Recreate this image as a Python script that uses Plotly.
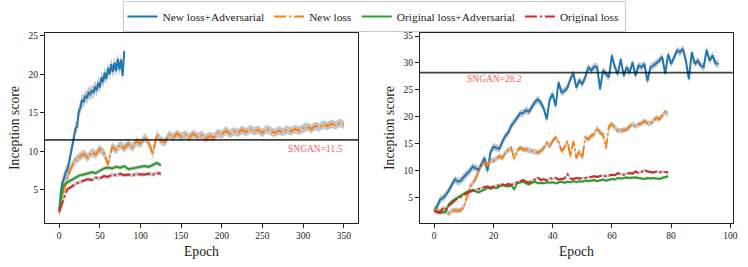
import numpy as np
import plotly.graph_objects as go

# ---------------- data ----------------
series_names = ["New loss+Adversarial", "New loss", "Original loss+Adversarial", "Original loss"]
series_colors = ["#1f77b4", "#ff7f0e", "#2ca02c", "#d62728"]
series_dash = ["solid", "12px,3px,2px,3px", "solid", "12px,3px,2px,3px"]

# Left panel
left_blue_epoch = list(range(0, 81, 2))
left_blue = [2.3, 4.8, 6.0, 6.5, 7.3, 7.6, 8.5, 9.8, 10.5, 11.8, 13.0, 13.2, 15.2, 15.6, 16.7,
             16.4, 17.2, 16.9, 17.6, 17.4, 17.9, 17.6, 18.4, 17.9, 18.9, 18.3, 19.6, 19.0, 20.2,
             19.4, 20.8, 20.0, 21.3, 20.3, 21.5, 20.4, 22.0, 20.6, 21.9, 19.8, 23.0]
left_orange_epoch = list(range(0, 351, 5))
left_orange = [2.0, 4.6, 6.6, 8.0, 8.9, 9.3, 9.7, 9.2, 9.9, 9.6, 10.3, 9.8, 8.3, 10.6, 10.2,
               10.9, 10.4, 11.0, 10.5, 11.3, 11.0, 11.8, 11.2, 9.6, 12.2, 11.4, 11.2, 12.2, 11.8,
               12.3, 11.9, 12.2, 11.8, 12.3, 11.9, 12.1, 11.7, 12.0, 11.8, 12.4, 12.2, 12.7, 12.3,
               12.6, 12.4, 12.8, 12.5, 12.9, 12.6, 12.8, 12.4, 12.9, 12.6, 12.4, 12.7, 12.5, 12.8,
               12.6, 12.9, 12.7, 13.0, 13.2, 12.9, 13.3, 13.1, 13.5, 13.3, 13.6, 13.4, 13.7, 13.5]
left_green_epoch = list(range(0, 126, 5))
left_green = [2.5, 5.6, 6.0, 6.3, 6.6, 6.9, 7.0, 7.1, 7.3, 7.2, 7.5, 7.8, 7.9, 7.8, 8.0, 7.9,
              8.1, 7.7, 7.8, 7.9, 8.0, 8.1, 8.0, 8.2, 8.5, 8.2]
left_red_epoch = list(range(0, 126, 5))
left_red = [2.2, 3.7, 5.1, 5.4, 5.8, 6.0, 6.2, 6.4, 6.3, 6.6, 6.5, 6.8, 6.7, 7.0, 6.9, 7.1,
            6.9, 7.0, 6.9, 7.1, 7.0, 7.0, 7.1, 7.0, 7.2, 7.1]
left_std = [0.8, 0.55, 0.25, 0.25]
left_sngan = 11.5

# Right panel
right_blue_epoch = list(range(0, 97))
right_blue = [2.5, 3.3, 4.6, 4.9, 5.5, 6.3, 7.4, 8.3, 7.9, 8.1, 8.8, 9.3, 9.9, 10.7, 10.4, 10.1,
              11.2, 12.3, 9.9, 13.4, 14.4, 14.2, 14.0, 15.3, 16.4, 17.0, 18.3, 19.0, 19.9, 20.6,
              20.7, 21.2, 20.9, 21.8, 22.7, 23.2, 22.6, 21.5, 19.5, 23.2, 24.2, 22.0, 26.4, 24.5,
              24.8, 25.4, 27.0, 28.1, 25.4, 26.7, 26.1, 27.3, 29.2, 28.6, 29.3, 29.3, 25.1, 28.6,
              27.9, 27.3, 31.4, 29.2, 27.9, 30.7, 27.6, 29.2, 28.2, 30.1, 27.6, 29.5, 29.2, 29.8,
              26.6, 29.2, 29.5, 29.9, 30.4, 31.1, 28.0, 31.6, 29.8, 31.0, 32.3, 32.0, 32.6, 30.4,
              27.0, 32.0, 29.8, 30.4, 29.5, 29.2, 32.4, 30.4, 31.4, 29.9, 29.8]
right_orange_epoch = list(range(0, 80))
right_orange = [2.8, 2.5, 2.3, 2.4, 2.3, 2.0, 2.5, 2.6, 2.5, 2.6, 3.2, 4.9, 7.0, 7.6, 8.5, 9.8,
                11.1, 11.4, 11.0, 11.9, 11.8, 12.2, 12.6, 12.3, 13.3, 13.8, 14.2, 12.2, 13.6, 14.2,
                13.9, 13.9, 13.7, 13.6, 13.5, 13.3, 13.6, 14.2, 15.1, 14.5, 15.5, 16.1, 15.3, 13.6,
                14.3, 15.4, 12.6, 15.4, 12.3, 13.6, 12.3, 16.1, 15.8, 16.4, 16.7, 17.9, 17.0, 16.7,
                14.1, 18.2, 18.6, 17.9, 17.4, 17.4, 17.5, 17.6, 18.2, 18.6, 18.2, 18.6, 18.7, 19.2,
                18.8, 18.7, 19.2, 19.8, 19.5, 20.3, 20.9, 20.5]
right_green_epoch = list(range(0, 80))
right_green = [2.6, 2.3, 2.3, 2.2, 2.4, 3.8, 4.3, 4.7, 5.0, 5.3, 5.7, 6.0, 6.2, 6.4, 6.1, 5.9,
               6.2, 6.4, 6.8, 6.6, 6.8, 6.7, 7.0, 7.3, 7.1, 7.0, 7.2, 6.5, 7.6, 7.8, 7.9, 7.6,
               7.4, 7.7, 7.9, 7.6, 7.7, 7.6, 7.8, 7.7, 7.8, 7.6, 7.8, 7.9, 7.7, 7.9, 7.8, 8.0,
               7.8, 8.0, 7.9, 8.1, 8.0, 8.1, 8.2, 8.0, 8.2, 8.3, 8.1, 8.3, 8.4, 8.3, 8.6, 8.5,
               8.6, 8.7, 8.6, 8.7, 8.7, 8.6, 8.5, 8.4, 8.6, 8.5, 8.6, 8.5, 8.4, 8.6, 8.7, 8.9]
right_red_epoch = list(range(0, 80))
right_red = [2.5, 2.2, 2.1, 3.2, 2.8, 3.5, 3.9, 4.5, 4.9, 5.1, 5.4, 5.8, 6.0, 6.2, 6.4, 6.5,
             6.7, 6.9, 7.0, 6.8, 7.0, 7.1, 7.2, 7.4, 7.2, 7.5, 7.3, 7.6, 7.8, 8.0, 8.2, 7.9,
             7.7, 8.1, 8.3, 8.7, 8.2, 8.4, 8.1, 8.6, 8.4, 8.6, 8.3, 8.4, 8.5, 9.3, 8.5, 8.4,
             8.6, 8.5, 8.5, 8.6, 8.7, 8.8, 8.9, 8.8, 9.0, 9.1, 8.9, 9.0, 9.2, 9.1, 9.5, 9.3,
             9.2, 9.4, 9.5, 9.4, 9.8, 9.5, 9.7, 10.1, 9.8, 9.7, 9.6, 9.8, 9.6, 9.8, 9.7, 9.6]
right_std = [0.7, 0.5, 0.25, 0.25]
right_sngan = 28.2

left_xticks = [0, 50, 100, 150, 200, 250, 300, 350]
left_yticks = [5, 10, 15, 20, 25]
right_xticks = [0, 20, 40, 60, 80, 100]
right_yticks = [5, 10, 15, 20, 25, 30, 35]

# ---------------- figure ----------------
W, H = 748, 267
FONT = "'Liberation Serif', 'Times New Roman', serif"
fig = go.Figure()

panels = [
    ("x", "y", [(left_blue_epoch, left_blue), (left_orange_epoch, left_orange),
                (left_green_epoch, left_green), (left_red_epoch, left_red)], left_std),
    ("x2", "y2", [(right_blue_epoch, right_blue), (right_orange_epoch, right_orange),
                  (right_green_epoch, right_green), (right_red_epoch, right_red)], right_std),
]

for pi, (xa, ya, data, stds) in enumerate(panels):
    for (ep, val), sd in zip(data, stds):
        ep = np.array(ep, float)
        val = np.array(val, float)
        fig.add_trace(go.Scatter(
            x=np.concatenate([ep, ep[::-1]]),
            y=np.concatenate([val + sd, (val - sd)[::-1]]),
            fill="toself", fillcolor="rgba(140,140,140,0.5)", line=dict(width=0),
            hoverinfo="skip", showlegend=False, xaxis=xa, yaxis=ya, mode="lines"))
    for i, (ep, val) in enumerate(data):
        fig.add_trace(go.Scatter(
            x=ep, y=val, mode="lines", name=series_names[i],
            line=dict(color=series_colors[i], width=2, dash=series_dash[i]),
            showlegend=(pi == 0), legendgroup=series_names[i],
            xaxis=xa, yaxis=ya))

ax_common = dict(showline=True, linecolor="#222", linewidth=1, mirror=True,
                 ticks="outside", ticklen=4, tickwidth=1, tickcolor="#222",
                 showgrid=False, zeroline=False,
                 tickfont=dict(family=FONT, size=9.5, color="#222"))

y_dom = [1 - 223 / H, 1 - 33 / H]
fig.update_layout(
    width=W, height=H,
    margin=dict(l=0, r=0, t=0, b=0, autoexpand=False),
    paper_bgcolor="white", plot_bgcolor="white",
    font=dict(family=FONT, color="#222"),
    xaxis=dict(domain=[45 / W, 358 / W], range=[-17.5, 367.5], tickvals=left_xticks,
               anchor="y", **ax_common),
    yaxis=dict(domain=y_dom, range=[0.72, 25.35], tickvals=left_yticks, anchor="x", **ax_common),
    xaxis2=dict(domain=[420 / W, 732.7 / W], range=[-4.8, 100.8], tickvals=right_xticks,
                anchor="y2", **ax_common),
    yaxis2=dict(domain=y_dom, range=[0.22, 35.56], tickvals=right_yticks, anchor="x2", **ax_common),
    legend=dict(orientation="h", x=0.5, xanchor="center", y=1 - 1 / H, yanchor="top",
                bordercolor="#cccccc", borderwidth=1, bgcolor="white",
                font=dict(family=FONT, size=11.4, color="#222"),
                tracegroupgap=0, itemwidth=30),
    showlegend=True,
)

for xa, ya, val in [("x", "y", left_sngan), ("x2", "y2", right_sngan)]:
    fig.add_shape(type="line", xref=f"{xa} domain", yref=ya, x0=0, x1=1, y0=val, y1=val,
                  line=dict(color="rgba(0,0,0,0.75)", width=1.7))

fig.add_annotation(x=315, y=10.3, xref="x", yref="y", text=f"SNGAN={left_sngan}",
                   showarrow=False, font=dict(family=FONT, size=9.5, color="#ff5c5c"))
fig.add_annotation(x=20.5, y=27.0, xref="x2", yref="y2", text=f"SNGAN={right_sngan}",
                   showarrow=False, font=dict(family=FONT, size=9.5, color="#ff5c5c"))

for xc in [(45 + 358) / 2 / W, (420 + 732.7) / 2 / W]:
    fig.add_annotation(x=xc, y=1 - 251 / H, xref="paper", yref="paper", text="Epoch",
                       showarrow=False, xanchor="center", yanchor="middle",
                       font=dict(family=FONT, size=13.7, color="#222"))
for xc in [14 / W, 389 / W]:
    fig.add_annotation(x=xc, y=1 - 128 / H, xref="paper", yref="paper", text="Inception score",
                       showarrow=False, xanchor="center", yanchor="middle", textangle=-90,
                       font=dict(family=FONT, size=13.7, color="#222"))

fig.write_html("out.html", config={"displayModeBar": False},
               post_script="document.body.style.margin='0';document.body.style.padding='0';")
